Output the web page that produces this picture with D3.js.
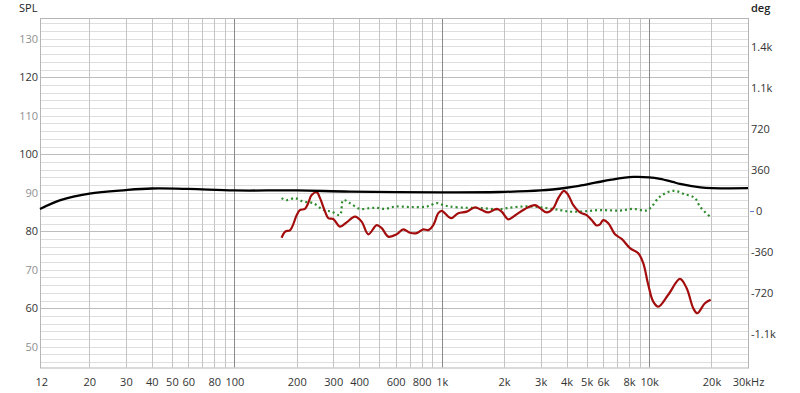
<!DOCTYPE html>
<html>
<head>
<meta charset="utf-8">
<script src="https://cdn.jsdelivr.net/npm/d3@7"></script>
<style>
  html, body { margin: 0; padding: 0; background: #fff; }
  svg { display: block; font-family: "Open Sans", "Noto Sans", sans-serif; }
</style>
</head>
<body>
<svg id="chart" width="800" height="393"></svg>
<script>
// ---------- data ----------
const xTickValues = [12, 20, 30, 40, 50, 60, 80, 100, 200, 300, 400, 600, 800, 1000, 2000, 3000, 4000, 5000, 6000, 8000, 10000, 20000, 30000];
const xTickLabels = ["12", "20", "30", "40", "50", "60", "80", "100", "200", "300", "400", "600", "800", "1k", "2k", "3k", "4k", "5k", "6k", "8k", "10k", "20k", "30kHz"];
const splTicks = [50, 60, 70, 80, 90, 100, 110, 120, 130];
const degTicks = [-1080, -720, -360, 0, 360, 720, 1080, 1440];
const degLabels = ["-1.1k", "-720", "-360", "0", "360", "720", "1.1k", "1.4k"];

const blackFreq = [11.56, 14.5, 20, 30, 40, 60, 100, 200, 360, 1000, 1900, 3000, 4000, 4600, 5500, 6600, 8400, 10000, 11300, 13000, 14100, 17700, 20000, 30000];
const blackSpl  = [85.8, 88.1, 89.8, 90.7, 91.1, 91.0, 90.6, 90.6, 90.3, 90.1, 90.2, 90.6, 91.3, 91.8, 92.6, 93.4, 94.1, 94.0, 93.6, 92.8, 92.3, 91.4, 91.2, 91.2];

const redFreq = [169, 176, 186, 200, 207, 219, 227, 236, 250, 259, 274, 284, 300, 323, 348, 382, 411, 443, 486, 514, 553, 607, 653, 704, 758, 815, 862, 911, 963, 1000, 1076, 1117, 1202, 1320, 1447, 1559, 1678, 1842, 1947, 2095, 2257, 2521, 2818, 2979, 3209, 3452, 3649, 3888, 4077, 4310, 4643, 5002, 5287, 5589, 5799, 6015, 6360, 6848, 7378, 8090, 8871, 9376, 9911, 10476, 11076, 12376, 14093, 15183, 16336, 17080, 18600, 19820];
const redSpl  = [78.3, 79.9, 80.3, 84.2, 85.5, 85.8, 87.3, 89.4, 90.1, 88.6, 85.1, 83.4, 83.2, 81.2, 82.3, 83.8, 82.5, 79.2, 81.6, 80.8, 78.6, 79.2, 80.5, 79.6, 79.5, 80.5, 80.3, 81.6, 84.7, 85.3, 83.8, 83.4, 84.7, 85.1, 86.2, 85.5, 84.9, 85.8, 85.1, 83.1, 84.1, 85.8, 86.8, 86.0, 84.9, 86.0, 88.6, 90.5, 89.4, 86.8, 84.9, 84.2, 82.9, 81.5, 81.8, 82.9, 82.1, 79.2, 78.0, 75.6, 74.3, 71.7, 66.1, 61.7, 60.4, 63.5, 67.6, 65.2, 60.0, 58.7, 61.3, 62.2];

const greenFreq = [169, 179, 196, 215, 240, 269, 295, 323, 335, 361, 404, 451, 486, 533, 595, 704, 847, 946, 1018, 1096, 1320, 1587, 1842, 2058, 2385, 2765, 3209, 3719, 4155, 4643, 5188, 5799, 6596, 7370, 8390, 9737, 10292, 11286, 13083, 14900, 16650, 17600, 19660];
const greenSpl  = [88.6, 88.1, 88.6, 87.7, 87.3, 85.5, 85.1, 84.2, 88.1, 87.3, 85.8, 86.0, 86.1, 85.8, 86.4, 86.3, 86.4, 87.3, 86.8, 86.4, 86.1, 86.0, 85.7, 86.0, 86.4, 86.4, 86.0, 85.5, 85.1, 85.1, 85.3, 85.5, 85.4, 85.4, 85.8, 85.4, 86.4, 89.0, 90.5, 89.6, 88.6, 86.4, 83.8];

// ---------- layout ----------
const L = 40, R = 748, T = 18, B = 367.5;
const svg = d3.select("#chart");
const x = d3.scaleLog().domain([11.56, 30000]).range([L, R]);
const y = d3.scaleLinear().domain([44.6, 135.4]).range([B, T]);
const yDeg = d3.scaleLinear().domain([-1377, 1692]).range([B, T]);

// ---------- grid ----------
const grid = svg.append("g");
const hVals = d3.range(46, 135, 2);
grid.selectAll("line.h").data(hVals).join("line")
  .attr("x1", L).attr("x2", R)
  .attr("y1", d => Math.round(y(d)) + 0.5).attr("y2", d => Math.round(y(d)) + 0.5)
  .attr("stroke", d => d % 20 === 0 ? "#bdbdbd" : "#dedede").attr("stroke-width", 1);

const vVals = [];
[10, 100, 1000].forEach(dec => { for (let m = 1; m <= 9; m++) { const f = dec * m; if (f >= 20) vVals.push(f); } });
vVals.push(10000, 20000);
grid.selectAll("line.v").data(vVals).join("line")
  .attr("y1", T).attr("y2", B)
  .attr("x1", d => Math.round(x(d)) + 0.5).attr("x2", d => Math.round(x(d)) + 0.5)
  .attr("stroke", d => (d === 100 || d === 1000 || d === 10000) ? "#8a8a8a" : "#c4c4c4").attr("stroke-width", 1);

grid.append("rect").attr("x", L + 0.5).attr("y", T + 0.5).attr("width", R - L).attr("height", B - T)
  .attr("fill", "none").attr("stroke", "#b5b5b5");

// ---------- axes labels ----------
const xAxis = d3.axisBottom(x).tickValues(xTickValues).tickFormat((d, i) => xTickLabels[i]).tickSize(0).tickPadding(0);
const gx = svg.append("g").attr("transform", `translate(0,${B})`).call(xAxis);
gx.select(".domain").remove();
gx.selectAll("text").attr("y", 18).attr("dy", 0).attr("fill", "#333").style("font-size", "11px").style("font-family", "'Open Sans', sans-serif");
gx.selectAll(".tick").filter(d => d === 12).select("text").attr("x", -2);

const yAxis = d3.axisLeft(y).tickValues(splTicks).tickSize(0).tickPadding(0);
const gy = svg.append("g").attr("transform", `translate(38,0)`).call(yAxis);
gy.select(".domain").remove();
gy.selectAll("text").attr("fill", d => d % 20 === 0 ? "#333" : "#8f8f8f").style("font-size", "11px").style("font-family", "'Open Sans', sans-serif");

const yAxisR = d3.axisRight(yDeg).tickValues(degTicks).tickFormat((d, i) => degLabels[i]).tickSize(0).tickPadding(0);
const gr = svg.append("g").attr("transform", `translate(751,0)`).call(yAxisR);
gr.select(".domain").remove();
gr.selectAll("text").attr("x", d => d === 0 ? 5 : 0).attr("fill", "#333").style("font-size", "11px").style("font-family", "'Open Sans', sans-serif");
svg.append("line").attr("x1", 750).attr("x2", 754)
  .attr("y1", Math.round(yDeg(0)) + 0.5).attr("y2", Math.round(yDeg(0)) + 0.5)
  .attr("stroke", "#5b7bd5").attr("stroke-width", 1);

svg.append("text").attr("x", 19).attr("y", 12).text("SPL").attr("fill", "#222").style("font-size", "11px");
svg.append("text").attr("x", 751).attr("y", 12).text("deg").attr("fill", "#222").style("font-size", "11px").style("font-weight", 600);

// ---------- curves ----------
const line = d3.line().x(d => x(d[0])).y(d => y(d[1])).curve(d3.curveCatmullRom.alpha(0.5));
const plot = svg.append("g");
plot.append("path").datum(greenFreq.map((f, i) => [f, greenSpl[i]])).attr("d", line)
  .attr("fill", "none").attr("stroke", "#2e8b2e").attr("stroke-width", 2.2).attr("stroke-dasharray", "2,3");
plot.append("path").datum(redFreq.map((f, i) => [f, redSpl[i]])).attr("d", line)
  .attr("fill", "none").attr("stroke", "#a30d0d").attr("stroke-width", 2.2).attr("stroke-linejoin", "round");
plot.append("path").datum(blackFreq.map((f, i) => [f, blackSpl[i]])).attr("d", line)
  .attr("fill", "none").attr("stroke", "#000").attr("stroke-width", 2.3);
</script>
</body>
</html>
